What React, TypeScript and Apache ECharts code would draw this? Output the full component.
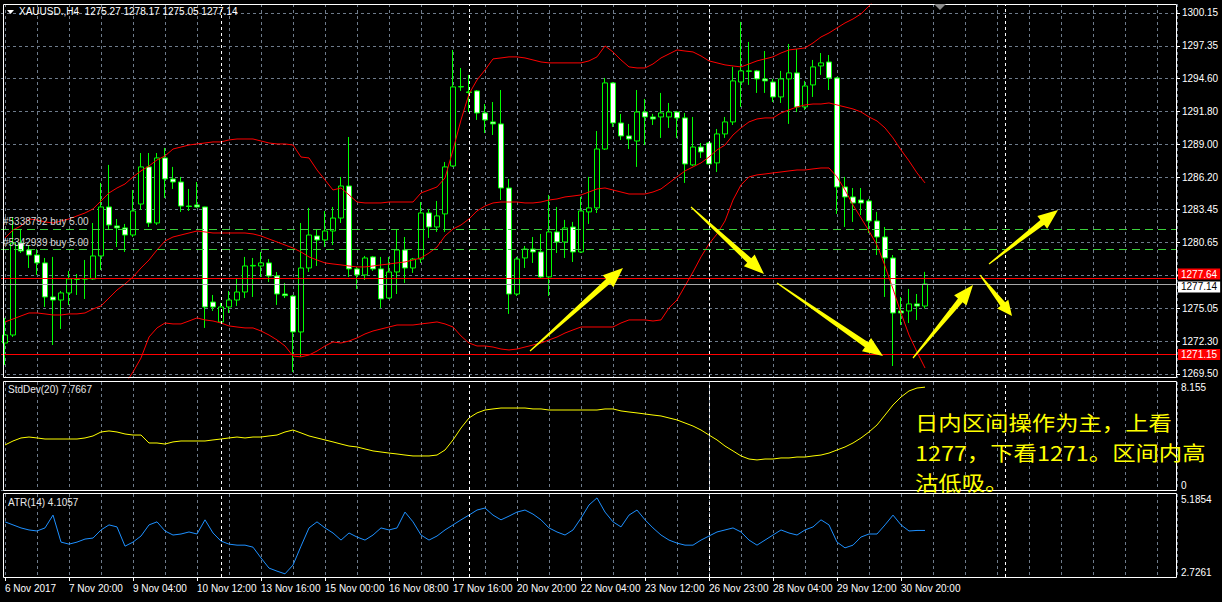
import React, { useEffect, useRef } from "react";
import * as echarts from "echarts";

// ---------- data ----------
const headerText = "XAUUSD.,H4  1275.27 1278.17 1275.05 1277.14";
const timeLabels = [
  "6 Nov 2017", "7 Nov 20:00", "9 Nov 04:00", "10 Nov 12:00", "13 Nov 16:00",
  "15 Nov 00:00", "16 Nov 08:00", "17 Nov 16:00", "20 Nov 20:00", "22 Nov 04:00",
  "23 Nov 12:00", "26 Nov 23:00", "28 Nov 04:00", "29 Nov 12:00", "30 Nov 20:00",
];
const SLOTS = 147; // bars visible incl. empty right margin
const BARS_PER_LABEL = 8;

const opens = [
  1272.13,1272.81,1280.62,1280.03,1279.60,1278.93,1276.04,1275.78,1276.38,1277.57,
  1277.55,1277.57,1279.52,1283.68,1282.07,1281.90,1281.30,1283.93,1287.08,1282.32,
  1287.84,1286.06,1285.80,1283.76,1283.85,1283.68,1275.61,1273.92,1275.19,1275.78,
  1276.46,1278.67,1278.67,1278.93,1277.82,1276.29,1276.12,1273.07,1278.50,1281.22,
  1280.88,1281.64,1282.74,1285.46,1278.42,1277.91,1279.44,1278.42,1275.95,1278.16,
  1280.03,1278.50,1279.26,1283.17,1281.98,1283.09,1287.16,1293.87,1293.45,1293.53,
  1291.66,1290.90,1290.73,1285.29,1276.29,1279.35,1280.11,1279.86,1277.74,1281.56,
  1280.71,1281.98,1279.86,1283.26,1283.60,1288.60,1294.21,1290.81,1289.71,1289.28,
  1291.74,1291.32,1291.32,1291.32,1291.74,1291.24,1287.25,1288.77,1289.11,1287.42,
  1289.88,1290.90,1294.29,1295.23,1295.23,1294.55,1294.29,1293.02,1294.55,1295.06,
  1292.17,1294.04,1295.65,1295.99,1294.63,1285.38,1284.53,1284.27,1284.19,1282.49,
  1281.13,1279.35,1274.85,1274.85,1275.45,1275.27,
];
const highs = [
  1274.26,1282.83,1281.81,1280.45,1280.11,1279.35,1279.44,1276.55,1278.25,1277.99,
  1279.18,1282.32,1285.72,1287.25,1282.66,1282.24,1285.12,1288.26,1288.26,1288.26,
  1288.69,1287.08,1286.23,1285.21,1285.80,1283.70,1276.21,1275.53,1276.55,1277.65,
  1279.44,1279.35,1279.86,1279.26,1278.16,1277.23,1276.21,1282.32,1283.60,1281.81,
  1283.34,1283.68,1286.23,1289.62,1278.59,1279.52,1279.52,1279.44,1279.44,1281.81,
  1281.13,1279.35,1284.10,1283.51,1284.19,1287.50,1297.01,1295.48,1294.89,1293.61,
  1292.42,1292.59,1293.61,1286.06,1279.44,1280.37,1281.13,1281.39,1284.70,1283.68,
  1282.58,1282.41,1284.53,1286.23,1290.13,1294.63,1294.29,1291.58,1290.73,1293.61,
  1292.85,1291.58,1293.36,1292.51,1291.83,1291.66,1291.32,1289.11,1289.20,1290.30,
  1291.32,1295.57,1299.39,1297.69,1295.31,1296.92,1294.55,1295.23,1297.52,1297.09,
  1294.38,1296.16,1296.75,1296.58,1294.72,1286.23,1285.29,1285.29,1284.36,1283.26,
  1281.98,1279.60,1276.04,1276.72,1276.29,1278.17,
];
const lows = [
  1270.27,1272.64,1279.77,1278.50,1277.91,1275.19,1271.96,1273.32,1275.36,1276.21,
  1275.87,1277.50,1278.33,1281.81,1280.28,1279.86,1281.13,1283.43,1281.98,1282.15,
  1284.44,1285.21,1283.26,1283.34,1283.60,1273.41,1274.85,1273.83,1274.68,1275.28,
  1275.95,1276.04,1277.74,1277.31,1275.36,1275.95,1269.67,1270.95,1278.16,1278.67,
  1280.28,1280.45,1282.32,1277.74,1276.72,1277.48,1278.25,1275.11,1275.87,1276.29,
  1277.23,1278.08,1278.93,1281.05,1281.56,1281.56,1287.08,1293.53,1291.74,1291.07,
  1289.96,1289.79,1284.27,1274.60,1276.12,1278.50,1278.93,1277.65,1276.12,1279.77,
  1279.35,1279.01,1279.77,1282.24,1283.17,1288.52,1290.47,1289.37,1288.60,1287.08,
  1288.94,1290.64,1289.54,1290.39,1289.54,1285.72,1287.16,1287.84,1287.33,1286.65,
  1289.54,1290.64,1292.17,1294.04,1293.36,1293.36,1292.59,1292.51,1290.73,1291.74,
  1291.92,1293.02,1294.89,1293.61,1283.09,1281.98,1282.41,1283.00,1281.47,1279.60,
  1276.04,1270.18,1273.66,1273.83,1274.09,1275.05,
];
const closes = [
  1272.81,1280.62,1279.94,1279.60,1278.93,1276.04,1275.78,1276.38,1277.57,1277.55,
  1277.60,1279.52,1283.68,1282.15,1281.90,1281.30,1283.34,1287.08,1282.32,1287.84,
  1286.06,1285.80,1283.76,1283.72,1283.68,1275.19,1275.19,1275.19,1275.78,1276.46,
  1278.67,1278.72,1278.93,1277.82,1276.29,1276.15,1273.07,1278.50,1281.30,1280.88,
  1281.64,1282.74,1285.46,1278.42,1277.91,1279.35,1278.42,1275.87,1278.16,1280.03,
  1278.50,1279.26,1283.17,1281.98,1282.92,1287.08,1293.87,1293.90,1293.40,1291.66,
  1291.07,1290.73,1285.29,1276.29,1279.26,1280.11,1279.86,1277.74,1281.56,1280.71,
  1281.90,1279.86,1283.34,1283.60,1288.60,1294.21,1290.81,1289.71,1289.45,1291.74,
  1291.32,1291.15,1291.66,1291.74,1291.24,1287.33,1288.77,1288.35,1287.33,1289.88,
  1290.90,1294.38,1295.23,1295.20,1294.55,1294.38,1293.02,1294.55,1295.06,1292.17,
  1293.95,1295.57,1295.91,1294.63,1285.38,1284.53,1284.02,1284.02,1282.49,1281.13,
  1279.35,1274.68,1274.68,1275.45,1275.27,1277.14,
];

const bbUpper = [
  1281.05,1281.73,1282.07,1282.66,1282.58,1282.41,1282.32,1282.49,1282.66,1282.92,
  1283.17,1283.51,1284.19,1284.87,1285.29,1285.63,1286.23,1286.74,1287.16,1287.67,
  1288.01,1288.60,1288.77,1288.94,1289.03,1289.11,1289.20,1289.20,1289.37,1289.45,
  1289.45,1289.45,1289.28,1289.11,1289.03,1289.03,1288.94,1287.92,1287.84,1286.82,
  1285.97,1285.12,1285.29,1284.70,1284.10,1284.02,1284.02,1284.02,1284.10,1284.10,
  1284.10,1284.10,1284.87,1285.12,1285.38,1286.14,1288.52,1291.07,1293.27,1294.46,
  1295.31,1296.25,1296.33,1296.42,1296.42,1296.33,1296.16,1295.99,1295.91,1295.91,
  1295.91,1295.91,1295.91,1296.08,1296.42,1297.35,1296.84,1296.16,1295.57,1295.48,
  1295.48,1295.82,1296.33,1296.67,1297.01,1296.92,1296.84,1296.50,1296.08,1295.91,
  1295.74,1295.65,1295.57,1295.82,1296.08,1296.25,1296.42,1296.75,1297.01,1297.09,
  1297.18,1297.60,1298.11,1298.45,1298.88,1299.30,1299.64,1300.07,1300.74,1301.51,
  1302.10,1302.36,1302.36,1302.36,1301.76,1301.42,
];
const bbMiddle = [
  1273.92,1274.17,1274.43,1274.68,1274.68,1274.60,1274.51,1274.51,1274.60,1274.60,
  1274.68,1275.02,1275.28,1275.95,1276.63,1277.14,1277.74,1278.50,1279.18,1280.03,
  1280.79,1281.13,1281.30,1281.47,1281.64,1281.56,1281.47,1281.47,1281.47,1281.47,
  1281.47,1281.39,1281.22,1280.96,1280.71,1280.45,1280.20,1279.86,1279.44,1279.18,
  1278.93,1278.84,1278.76,1278.67,1278.59,1278.59,1278.67,1278.76,1278.84,1278.93,
  1279.01,1279.18,1279.35,1279.77,1280.28,1281.22,1281.81,1282.15,1282.66,1283.34,
  1283.76,1284.02,1284.10,1284.10,1284.10,1284.02,1284.02,1284.10,1284.27,1284.36,
  1284.53,1284.61,1284.70,1284.95,1285.21,1285.29,1285.12,1284.95,1284.78,1284.78,
  1284.78,1284.95,1285.21,1285.72,1286.23,1286.74,1287.08,1287.42,1287.92,1288.52,
  1288.94,1289.79,1290.39,1290.90,1291.15,1291.24,1291.24,1291.66,1291.92,1292.17,
  1292.34,1292.42,1292.42,1292.51,1292.34,1292.17,1292.00,1291.75,1291.32,1290.98,
  1290.39,1289.54,1288.52,1287.59,1286.57,1285.72,
];
const bbLower = [
  1266.79,1266.62,1266.79,1266.70,1266.79,1266.79,1266.70,1266.53,1266.53,1266.28,
  1266.19,1266.53,1266.36,1267.04,1267.97,1268.65,1269.67,1270.86,1272.64,1273.41,
  1273.83,1273.75,1273.75,1274.00,1274.26,1274.09,1274.00,1273.83,1273.58,1273.49,
  1273.41,1273.41,1273.15,1272.81,1272.39,1271.88,1271.03,1270.95,1271.11,1271.45,
  1271.88,1272.22,1272.13,1272.30,1272.56,1272.90,1273.15,1273.32,1273.49,1273.66,
  1273.66,1273.66,1273.75,1273.83,1273.92,1273.75,1273.49,1272.73,1272.13,1271.88,
  1271.88,1271.79,1271.62,1271.54,1271.62,1271.79,1271.96,1272.13,1272.39,1272.64,
  1272.98,1273.24,1273.49,1273.49,1273.49,1273.49,1273.49,1273.83,1274.09,1274.09,
  1274.09,1274.00,1274.09,1275.11,1275.78,1276.97,1278.16,1279.44,1280.54,1281.39,
  1282.49,1284.27,1285.55,1286.23,1286.40,1286.48,1286.57,1286.65,1286.74,1286.82,
  1286.82,1286.91,1286.99,1286.99,1286.23,1285.12,1283.85,1282.75,1281.64,1280.45,
  1278.67,1276.72,1274.68,1272.81,1271.37,1270.01,
];

const stdDevValues = [
  3.40,3.70,3.93,4.00,3.93,3.85,3.85,3.85,3.85,3.85,
  3.93,4.08,4.38,4.46,4.38,4.23,4.15,4.15,3.55,3.55,
  3.47,3.63,3.70,3.70,3.70,3.70,3.78,3.85,3.93,4.00,
  3.93,4.00,4.00,4.08,4.15,4.38,4.53,4.31,4.08,3.93,
  3.78,3.63,3.47,3.32,3.25,3.10,2.95,2.87,2.79,2.72,
  2.64,2.57,2.57,2.57,2.64,3.02,3.78,4.68,5.44,5.82,
  6.04,6.12,6.19,6.19,6.19,6.19,6.12,6.12,6.04,6.04,
  6.04,6.04,6.04,6.04,6.04,6.12,6.12,5.97,5.89,5.82,
  5.74,5.66,5.59,5.44,5.29,5.06,4.83,4.53,4.15,3.78,
  3.32,2.95,2.57,2.34,2.27,2.34,2.34,2.42,2.42,2.49,
  2.49,2.57,2.64,2.79,3.02,3.25,3.55,3.93,4.38,4.91,
  5.66,6.42,7.02,7.48,7.70,7.7667,
];
const atrValues = [
  4.36,4.27,4.18,4.12,4.09,4.18,4.56,3.76,3.70,3.76,
  3.85,3.88,4.12,4.27,4.21,3.64,3.76,3.94,4.27,4.36,
  4.09,3.97,4.00,4.06,4.00,4.42,4.03,3.79,3.70,3.67,
  3.67,3.61,3.29,2.99,2.90,2.82,3.08,3.64,4.18,4.36,
  4.18,4.03,3.82,4.03,3.91,3.82,3.97,4.18,4.12,4.18,
  4.65,4.36,3.97,3.82,3.94,4.12,4.27,4.42,4.56,4.71,
  4.77,4.56,4.42,4.53,4.65,4.71,4.59,4.42,4.18,4.06,
  3.97,4.12,4.47,4.86,5.07,4.65,4.36,4.21,4.56,4.71,
  4.42,4.18,3.97,3.82,3.73,3.67,3.67,3.82,3.94,4.06,
  4.12,4.18,4.06,3.82,3.67,3.82,3.97,4.12,4.03,3.97,
  4.12,4.21,4.42,4.27,3.76,3.59,3.67,3.91,4.00,4.00,
  4.27,4.56,4.27,4.09,4.1057,4.1057,
];

const priceGridTicks = [1269.5, 1272.3, 1275.05, 1277.85, 1280.65, 1283.45, 1286.2, 1289.0, 1291.8, 1294.6, 1297.35, 1300.15];
const priceLabelTicks = [1269.5, 1272.3, 1275.05, 1280.65, 1283.45, 1286.2, 1289.0, 1291.8, 1294.6, 1297.35, 1300.15];
const stdDevRange = [0, 8.155];
const atrRange = [2.7261, 5.1854];
const stdDevTitle = "StdDev(20) 7.7667";
const atrTitle = "ATR(14) 4.1057";
const redLevels = [1277.64, 1271.15];
const bidLevel = 1277.14;
const orderLevels = [1281.81, 1280.11];
const orderTexts = ["#5338792 buy 5.00", "#5342939 buy 5.00"];
const weekStartIdx = [27, 58, 88, 125];
const noteLines = ["日内区间操作为主，上看", "1277，下看1271。区间内高", "沽低吸。"];

// ---------- helpers ----------
const GRID_COLOR = "#6e7b8b";
const FONT = "Liberation Sans";

const categories = Array.from({ length: SLOTS }, (_, i) => String(i));
const showTimeLabel = (i: number) => i % BARS_PER_LABEL === 0 && i / BARS_PER_LABEL < timeLabels.length;

function arrowPoints(x1: number, y1: number, x2: number, y2: number, headLen = 20, headW = 8, w0 = 0.6, w1 = 3) {
  const dx = x2 - x1, dy = y2 - y1;
  const len = Math.hypot(dx, dy);
  const ux = dx / len, uy = dy / len;
  const nx = -uy, ny = ux;
  const bx = x2 - ux * headLen, by = y2 - uy * headLen;
  return [
    [x1 + nx * w0, y1 + ny * w0],
    [bx + nx * w1, by + ny * w1],
    [bx + nx * headW, by + ny * headW],
    [x2, y2],
    [bx - nx * headW, by - ny * headW],
    [bx - nx * w1, by - ny * w1],
    [x1 - nx * w0, y1 - ny * w0],
  ];
}

const arrows = [
  [530, 351, 623, 268, 20, 8],
  [691, 207, 764, 274, 20, 8],
  [777, 283, 883, 356, 20, 8],
  [913, 358, 973, 285, 20, 8],
  [989, 264, 1058, 210, 20, 8],
  [980, 275, 1012, 316, 15, 7],
];

function separatorMarkLine() {
  return {
    silent: true,
    symbol: ["none", "none"],
    label: { show: false },
    lineStyle: { color: "#ffffff", type: [3, 3], width: 1 },
    data: weekStartIdx.map((i) => ({ xAxis: i })),
  };
}

function hiddenCat(gridIndex: number) {
  return {
    type: "category",
    gridIndex,
    data: categories,
    boundaryGap: true,
    axisLine: { show: false },
    axisTick: { show: false },
    axisLabel: { show: false },
    splitLine: { show: false },
  };
}
function vGridAxis(gridIndex: number) {
  return {
    type: "value",
    gridIndex,
    min: 0,
    max: 146.5,
    interval: 4,
    axisLine: { show: false },
    axisTick: { show: false },
    axisLabel: { show: false },
    splitLine: { show: true, lineStyle: { color: GRID_COLOR, type: [3, 3], width: 1 } },
  };
}
function hiddenY(gridIndex: number) {
  return {
    type: "value", gridIndex, min: 0, max: 1,
    axisLine: { show: false }, axisTick: { show: false }, axisLabel: { show: false }, splitLine: { show: false },
  };
}
function subLabelAxis(gridIndex: number, range: number[], value: number, vAlign: string, zeroLine: boolean) {
  return {
    type: "value",
    gridIndex,
    position: "right",
    min: range[0],
    max: range[1],
    axisLine: { show: false },
    axisTick: { show: false, customValues: [value] },
    axisLabel: {
      show: true,
      customValues: [value],
      formatter: (v: number) => String(v),
      color: "#ffffff",
      fontSize: 10,
      fontFamily: FONT,
      verticalAlign: vAlign,
      margin: 4,
    },
    splitLine: { show: zeroLine, lineStyle: { color: GRID_COLOR, type: [3, 3], width: 1 } },
  };
}

function buildOption() {
  const candleData = opens.map((o, i) => [o, closes[i], lows[i], highs[i]]);
  const priceBox = (v: number, bg: string, fg: string, dy: number) => ({
    show: true,
    position: "end",
    formatter: v.toFixed(2),
    color: fg,
    backgroundColor: bg,
    padding: [1, 3, 0, 3],
    fontSize: 10,
    fontFamily: FONT,
    distance: 1,
    offset: [0, dy],
  });

  const mainMarkLines = [
    ...weekStartIdx.map((i) => ({ xAxis: i, lineStyle: { color: "#ffffff", type: [3, 3], width: 1 }, label: { show: false } })),
    ...orderLevels.map((p, k) => ({
      yAxis: p,
      lineStyle: { color: "#3ccf3c", type: [8, 5], width: 1 },
      label: {
        show: true,
        position: "insideStartTop",
        formatter: orderTexts[k],
        color: "#d6d6d6",
        fontSize: 10,
        fontFamily: FONT,
        distance: 2,
      },
    })),
    { yAxis: bidLevel, lineStyle: { color: "#a8a8a8", type: "solid", width: 1 }, label: priceBox(bidLevel, "#ffffff", "#000000", 3) },
    ...redLevels.map((p, k) => ({
      yAxis: p,
      lineStyle: { color: "#ff0000", type: "solid", width: 1 },
      label: priceBox(p, "#ff0000", "#ffffff", k === 0 ? -4 : 0),
    })),
  ];

  const graphics: any[] = [];
  // panel frames
  [[4.5, 373], [381.5, 109], [493.5, 84]].forEach(([y, h]) => {
    graphics.push({
      type: "rect",
      shape: { x: 3.5, y, width: 1173, height: h },
      style: { fill: "none", stroke: "#ffffff", lineWidth: 1 },
      silent: true,
      z: 50,
    });
  });
  // header
  graphics.push({ type: "polygon", shape: { points: [[7, 10], [14, 10], [10.5, 14]] }, style: { fill: "#ffffff" }, z: 60 });
  graphics.push({ type: "text", x: 19, y: 6, style: { text: headerText, fill: "#ffffff", font: `10px "${FONT}"` }, z: 60 });
  graphics.push({ type: "polygon", shape: { points: [[934, 4], [946, 4], [940, 10]] }, style: { fill: "#8c8c8c" }, z: 60 });
  graphics.push({ type: "text", x: 8, y: 384, style: { text: stdDevTitle, fill: "#e8e8e8", font: `10px "${FONT}"` }, z: 60 });
  graphics.push({ type: "text", x: 8, y: 497, style: { text: atrTitle, fill: "#e8e8e8", font: `10px "${FONT}"` }, z: 60 });
  arrows.forEach(([x1, y1, x2, y2, hl, hw]) => {
    graphics.push({
      type: "polygon",
      shape: { points: arrowPoints(x1, y1, x2, y2, hl, hw) },
      style: { fill: "#ffff00" },
      z: 70,
    });
  });
  noteLines.forEach((t, k) => {
    graphics.push({
      type: "text",
      x: 915,
      y: 422 + k * 30,
      scaleX: 1.14,
      style: {
        text: t,
        fill: "#ffff00",
        font: `20.5px "Noto Sans CJK SC"`,
        verticalAlign: "middle",
        textVerticalAlign: "middle",
      },
      z: 80,
    });
  });

  return {
    animation: false,
    backgroundColor: "#000000",
    grid: [
      { left: 1, top: 4, width: 1176, height: 374 },
      { left: 1, top: 382, width: 1176, height: 108 },
      { left: 1, top: 494, width: 1176, height: 83 },
      { left: 5, top: 4, width: 1172, height: 374 },
      { left: 5, top: 382, width: 1172, height: 108 },
      { left: 5, top: 494, width: 1172, height: 83 },
    ],
    xAxis: [
      hiddenCat(0),
      hiddenCat(1),
      {
        type: "category",
        gridIndex: 2,
        data: categories,
        boundaryGap: true,
        position: "bottom",
        axisLine: { show: false },
        axisTick: {
          show: true,
          alignWithLabel: true,
          interval: (i: number) => showTimeLabel(i),
          length: 4,
          lineStyle: { color: "#ffffff" },
        },
        axisLabel: {
          show: true,
          interval: (i: number) => showTimeLabel(i),
          formatter: (_v: string, i: number) => (showTimeLabel(i) ? timeLabels[i / BARS_PER_LABEL] : ""),
          align: "left",
          color: "#ffffff",
          fontSize: 10,
          fontFamily: FONT,
          margin: 6,
        },
        splitLine: { show: false },
      },
      vGridAxis(3),
      vGridAxis(4),
      vGridAxis(5),
    ],
    yAxis: [
      {
        type: "value",
        gridIndex: 0,
        position: "right",
        min: 1269.16,
        max: 1300.91,
        axisLine: { show: false },
        axisTick: { show: true, customValues: priceGridTicks, length: 3, lineStyle: { color: "#ffffff" } },
        axisLabel: {
          show: true,
          customValues: priceLabelTicks,
          formatter: (v: number) => v.toFixed(2),
          color: "#ffffff",
          fontSize: 10,
          fontFamily: FONT,
          margin: 5,
        },
        splitLine: { show: true, lineStyle: { color: GRID_COLOR, type: [3, 3], width: 1 } },
      },
      subLabelAxis(1, stdDevRange, stdDevRange[1], "top", false),
      subLabelAxis(1, stdDevRange, stdDevRange[0], "bottom", true),
      subLabelAxis(2, atrRange, atrRange[1], "top", false),
      subLabelAxis(2, atrRange, atrRange[0], "bottom", false),
      hiddenY(3),
      hiddenY(4),
      hiddenY(5),
    ],
    series: [
      {
        type: "candlestick",
        xAxisIndex: 0,
        yAxisIndex: 0,
        data: candleData,
        barWidth: 5,
        itemStyle: {
          color: "#000000",
          color0: "#ffffff",
          borderColor: "#00ff00",
          borderColor0: "#00ff00",
          borderWidth: 1,
        },
        markLine: {
          silent: true,
          symbol: ["none", "none"],
          data: mainMarkLines,
        },
        z: 3,
      },
      ...[bbUpper, bbMiddle, bbLower].map((d) => ({
        type: "line",
        xAxisIndex: 0,
        yAxisIndex: 0,
        data: d,
        showSymbol: false,
        symbol: "none",
        clip: true,
        lineStyle: { color: "#ff0000", width: 1 },
        z: 4,
      })),
      {
        type: "line",
        xAxisIndex: 1,
        yAxisIndex: 1,
        data: stdDevValues,
        showSymbol: false,
        symbol: "none",
        lineStyle: { color: "#ffff00", width: 1 },
        markLine: separatorMarkLine(),
        z: 4,
      },
      {
        type: "line",
        xAxisIndex: 2,
        yAxisIndex: 3,
        data: atrValues,
        showSymbol: false,
        symbol: "none",
        lineStyle: { color: "#1e90ff", width: 1 },
        markLine: separatorMarkLine(),
        z: 4,
      },
    ],
    graphic: graphics,
  };
}

export default function App() {
  const ref = useRef<HTMLDivElement>(null);
  useEffect(() => {
    if (!ref.current) return;
    const chart = echarts.init(ref.current, null, { renderer: "svg" });
    chart.setOption(buildOption() as any);
    return () => chart.dispose();
  }, []);
  return (
    <div
      ref={ref}
      style={{ position: "fixed", left: 0, top: 0, width: 1222, height: 602, background: "#000" }}
    />
  );
}
